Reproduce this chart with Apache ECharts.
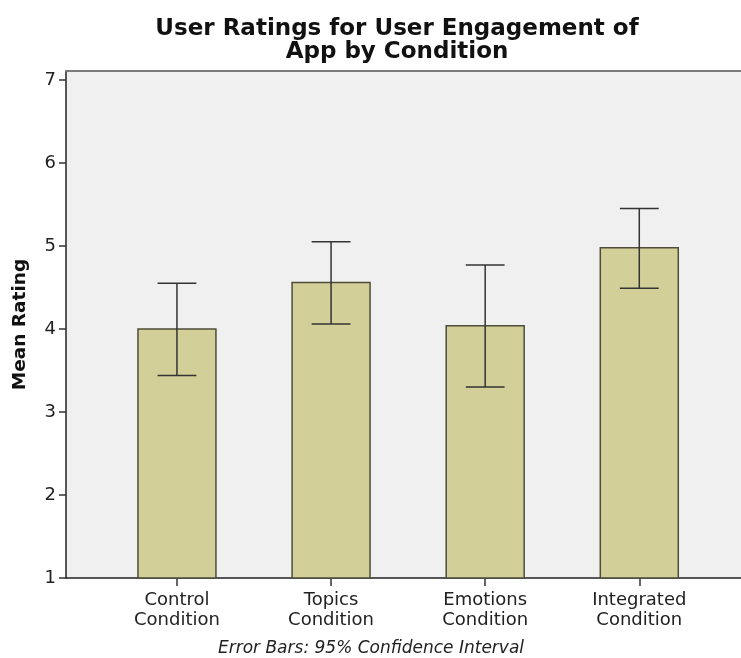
<!DOCTYPE html>
<html>
<head>
<meta charset="utf-8">
<script src="https://cdn.jsdelivr.net/npm/echarts@6/dist/echarts.min.js"></script>
<style>
  html, body { margin: 0; padding: 0; background: #fff; }
  #chart { width: 741px; height: 658px; }
</style>
</head>
<body>
<div id="chart"></div>
<script>
// data
var categories = ['Control\nCondition', 'Topics\nCondition', 'Emotions\nCondition', 'Integrated\nCondition'];
var means = [4.00, 4.56, 4.04, 4.98];
var ciLow = [3.44, 4.06, 3.30, 4.49];
var ciHigh = [4.55, 5.05, 4.77, 5.45];
var yTicks = [1, 2, 3, 4, 5, 6, 7];
var xTicks = [0, 1, 2, 3];

var font = '"DejaVu Sans", sans-serif';

var barData = [];
var errData = [];
for (var i = 0; i < categories.length; i++) {
  barData.push([i, means[i]]);
  errData.push([i, ciLow[i], ciHigh[i]]);
} // one item per category

var chart = echarts.init(document.getElementById('chart'));
chart.setOption({
  animation: false,
  title: [
    {
      text: 'User Ratings for User Engagement of\nApp by Condition',
      left: 392,
      top: 13,
      textAlign: 'center',
      textStyle: { fontFamily: font, fontSize: 23, fontWeight: 'bold', color: '#111', lineHeight: 23 }
    },
    {
      text: 'Error Bars: 95% Confidence Interval',
      left: 366,
      top: 635,
      textAlign: 'center',
      textStyle: { fontFamily: font, fontSize: 17, fontWeight: 'normal', fontStyle: 'italic', color: '#222' }
    }
  ],
  grid: {
    left: 66, right: 0, top: 71, bottom: 80,
    show: true, backgroundColor: '#f0f0f0', borderWidth: 0,
    containLabel: false, outerBoundsMode: 'none'
  },
  xAxis: [
    {
      type: 'value', min: -0.72, max: 3.66,
      splitLine: { show: false },
      axisLine: { show: true, onZero: false, lineStyle: { color: '#222', width: 1.5 } },
      axisTick: { show: true, customValues: xTicks, length: 8, lineStyle: { color: '#333', width: 1.5 } },
      axisLabel: {
        customValues: xTicks,
        formatter: function (v) { return categories[Math.round(v)]; },
        fontFamily: font, fontSize: 18, color: '#222', lineHeight: 20, margin: 12
      }
    },
    {
      type: 'value', min: -0.72, max: 3.66, position: 'top',
      splitLine: { show: false },
      axisLine: { show: true, onZero: false, lineStyle: { color: '#7a7a7a', width: 2 } },
      axisTick: { show: false },
      axisLabel: { show: false }
    }
  ],
  yAxis: {
    type: 'value', min: 1, max: 7.108,
    name: 'Mean Rating', nameLocation: 'middle', nameGap: 36,
    nameTextStyle: { fontFamily: font, fontSize: 18.5, fontWeight: 'bold', color: '#111' },
    splitLine: { show: false },
    axisLine: { show: true, onZero: false, lineStyle: { color: '#222', width: 1.5 } },
    axisTick: { show: true, customValues: yTicks, length: 7, lineStyle: { color: '#333', width: 1.5 } },
    axisLabel: { customValues: yTicks, fontFamily: font, fontSize: 18, color: '#222', margin: 10 }
  },
  series: [
    {
      name: 'Mean',
      type: 'custom',
      data: barData,
      renderItem: function (params, api) {
        var top = api.coord([api.value(0), api.value(1)]);
        var base = api.coord([api.value(0), 1]);
        var w = api.size([1, 0])[0] * 0.506;
        return {
          type: 'rect',
          shape: { x: top[0] - w / 2, y: top[1], width: w, height: base[1] - top[1] },
          style: { fill: '#d3cf99', stroke: '#4f4d3a', lineWidth: 1.5 }
        };
      }
    },
    {
      name: '95% CI',
      type: 'custom',
      data: errData,
      z: 3,
      renderItem: function (params, api) {
        var lo = api.coord([api.value(0), api.value(1)]);
        var hi = api.coord([api.value(0), api.value(2)]);
        var half = api.size([1, 0])[0] * 0.126;
        var st = { stroke: '#333', lineWidth: 1.5 };
        return {
          type: 'group',
          children: [
            { type: 'line', shape: { x1: lo[0], y1: lo[1], x2: hi[0], y2: hi[1] }, style: st },
            { type: 'line', shape: { x1: hi[0] - half, y1: hi[1], x2: hi[0] + half, y2: hi[1] }, style: st },
            { type: 'line', shape: { x1: lo[0] - half, y1: lo[1], x2: lo[0] + half, y2: lo[1] }, style: st }
          ]
        };
      }
    }
  ]
});
</script>
</body>
</html>
